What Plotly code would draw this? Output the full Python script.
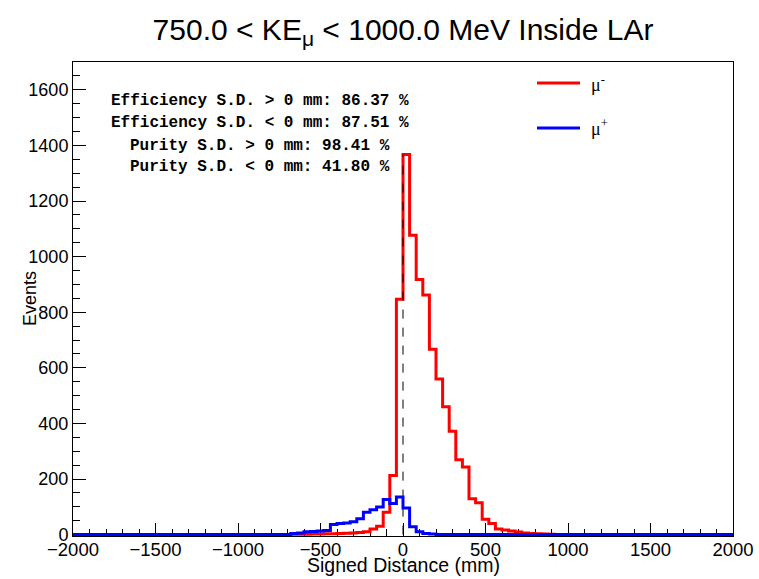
import numpy as np
import plotly.graph_objects as go

# ---- data (40 mm bins from -2000 to 2000 mm) ----
bin_width = 40
x_min, x_max = -2000, 2000

# mu- (red): counts starting at bin edge -680 mm
red_start = -680
red_counts = [1, 1, 1, 2, 2, 3, 3, 4, 5, 6,
              8, 10, 20, 30, 80, 213, 847,
              1367, 1077, 918, 862, 667, 560, 460, 372, 269, 243,
              129, 115, 55, 40, 20, 17, 13, 9, 6, 4, 3, 2, 1]

# mu+ (blue): counts starting at bin edge -680 mm
blue_start = -680
blue_counts = [4, 6, 10, 11, 13, 15, 36, 40, 42, 46, 57, 80, 89, 99,
               126, 112, 135, 96, 28, 10, 4, 2]

texts = ["Efficiency S.D. > 0 mm: 86.37 %",
         "Efficiency S.D. < 0 mm: 87.51 %",
         "Purity S.D. > 0 mm: 98.41 %",
         "Purity S.D. < 0 mm: 41.80 %"]

x_ticks = [-2000, -1500, -1000, -500, 0, 500, 1000, 1500, 2000]
y_ticks = [0, 200, 400, 600, 800, 1000, 1200, 1400, 1600]

# ---- build full histograms ----
edges = np.arange(x_min, x_max + bin_width, bin_width)
nb = len(edges) - 1

def full(start, counts):
    h = np.zeros(nb)
    i0 = int((start - x_min) // bin_width)
    h[i0:i0 + len(counts)] = counts
    return h

red_h = full(red_start, red_counts)
blue_h = full(blue_start, blue_counts)

def step(h):
    return list(edges), list(h) + [h[-1]]

fig = go.Figure()
rx, ry = step(red_h)
bx, by = step(blue_h)
fig.add_trace(go.Scatter(x=rx, y=ry, mode="lines", line=dict(color="#ff0000", width=3, shape="hv"),
                         showlegend=False, hoverinfo="skip"))
fig.add_trace(go.Scatter(x=[0, 0], y=[0, float(red_h.max())], mode="lines",
                         line=dict(color="black", width=1, dash="dash"), showlegend=False, hoverinfo="skip"))
fig.add_trace(go.Scatter(x=bx, y=by, mode="lines", line=dict(color="#0000ff", width=3, shape="hv"),
                         showlegend=False, hoverinfo="skip"))

font_main = "Liberation Sans, Arial, Helvetica, sans-serif"

fig.update_layout(
    width=759, height=579,
    margin=dict(l=73, r=26, t=62, b=43),
    paper_bgcolor="white", plot_bgcolor="white",
    font=dict(family=font_main, size=18, color="black"),
    title=dict(text="750.0 < KE<sub>μ</sub> < 1000.0 MeV Inside LAr",
               x=0.5, xref="paper", xanchor="center",
               y=1 - 29 / 579, yref="container", yanchor="middle",
               font=dict(family=font_main, size=30, color="black")),
    xaxis=dict(range=[x_min, x_max], tickvals=x_ticks, ticks="inside", ticklen=13,
               tickcolor="black", showline=True, linecolor="black", linewidth=1, mirror=True,
               showgrid=False, zeroline=False, layer="below traces", automargin=False,
               tickfont=dict(size=18.5), ticklabelstandoff=-3,
               minor=dict(dtick=100, ticks="inside", ticklen=7, tickcolor="black", showgrid=False)),
    yaxis=dict(range=[-5, 1700], tickvals=y_ticks, ticks="inside", ticklen=13,
               tickcolor="black", showline=True, linecolor="black", linewidth=1, mirror=True,
               showgrid=False, zeroline=False, layer="below traces", automargin=False,
               tickfont=dict(size=18),
               minor=dict(dtick=50, ticks="inside", ticklen=7, tickcolor="black", showgrid=False)),
)

# axis titles
fig.add_annotation(text="Signed Distance (mm)", xref="paper", yref="paper", x=0.5, y=-0.061,
                   xanchor="center", yanchor="middle", showarrow=False, font=dict(size=19.5))
fig.add_annotation(text="Events", xref="paper", yref="paper", x=(30 - 73) / 660, y=0.5,
                   xanchor="center", yanchor="middle", textangle=-90, showarrow=False, font=dict(size=18))

# info text
ys_px = [101, 122.5, 146, 167]
for t, yp in zip(texts, ys_px):
    fig.add_annotation(text="<b>" + t + "</b>", xref="paper", yref="paper",
                       x=(260 - 73) / 660, y=(536 - yp) / 474, xanchor="center", yanchor="middle",
                       showarrow=False,
                       font=dict(family="Liberation Mono, Courier New, monospace", size=16, color="black"))

# legend
leg = [("#ff0000", "μ<sup>-</sup>", 83), ("#0000ff", "μ<sup>+</sup>", 128)]
for col, lab, yp in leg:
    yy = (536 - yp) / 474
    fig.add_shape(type="line", xref="paper", yref="paper", x0=(537 - 73) / 660, x1=(580 - 73) / 660,
                  y0=yy, y1=yy, line=dict(color=col, width=3))
    fig.add_annotation(text=lab, xref="paper", yref="paper", x=(589 - 73) / 660, y=yy,
                       xanchor="left", yanchor="middle", showarrow=False,
                       font=dict(family="Liberation Serif, Times New Roman, serif", size=18, color="black"))

fig.write_html("out.html")
